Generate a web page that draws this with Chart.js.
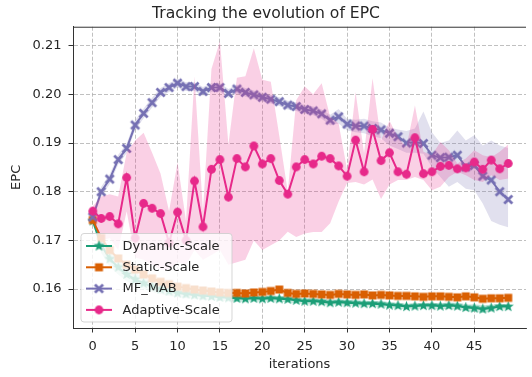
<!DOCTYPE html>
<html>
<head>
<meta charset="utf-8">
<title>EPC evolution</title>
<script src="https://cdn.jsdelivr.net/npm/chart.js@4.4.0/dist/chart.umd.min.js"></script>
<style>
    html, body { margin: 0; padding: 0; background: #fff; }
    canvas { display: block; }
</style>
</head>
<body>
<canvas id="epcChart" width="532" height="377"></canvas>
<script>
// --- Data ---
const iterations = Array.from({ length: 50 }, (_, i) => i);
const xTicks = [0, 5, 10, 15, 20, 25, 30, 35, 40, 45];
const yTicks = [0.16, 0.17, 0.18, 0.19, 0.20, 0.21];
const seriesNames = ['Dynamic-Scale', 'Static-Scale', 'MF_MAB', 'Adaptive-Scale'];

const dynamicScale = [
    0.1740, 0.1690, 0.1662, 0.1645, 0.1630, 0.1620, 0.1612, 0.1605, 0.1600, 0.1596,
    0.1592, 0.1590, 0.1588, 0.1586, 0.1585, 0.1583, 0.1582, 0.1581, 0.1580, 0.1581,
    0.1580, 0.1581, 0.1580, 0.1579, 0.1577, 0.1575, 0.1575, 0.1574, 0.1572, 0.1573,
    0.1572, 0.1571, 0.1570, 0.1570, 0.1569, 0.1567, 0.1566, 0.1564, 0.1565, 0.1566,
    0.1566, 0.1565, 0.1566, 0.1565, 0.1562, 0.1561, 0.1559, 0.1561, 0.1564, 0.1564
];
const dynamicSpread = [
    0.0003, 0.0016, 0.0016, 0.0015, 0.0014, 0.0013, 0.0012, 0.0011, 0.0010, 0.0010,
    0.0009, 0.0009, 0.0008, 0.0008, 0.0008, 0.0007, 0.0007, 0.0007, 0.0006, 0.0006,
    0.0006, 0.0006, 0.0006, 0.0006, 0.0006, 0.0006, 0.0006, 0.0006, 0.0006, 0.0006,
    0.0006, 0.0006, 0.0006, 0.0006, 0.0006, 0.0006, 0.0006, 0.0006, 0.0006, 0.0006,
    0.0006, 0.0006, 0.0007, 0.0007, 0.0007, 0.0008, 0.0008, 0.0007, 0.0006, 0.0005
];
const staticScale = [
    0.1742, 0.1705, 0.1680, 0.1663, 0.1650, 0.1640, 0.1630, 0.1622, 0.1615, 0.1610,
    0.1605, 0.1602, 0.1599, 0.1597, 0.1595, 0.1593, 0.1592, 0.1592, 0.1591, 0.1593,
    0.1594, 0.1596, 0.1599, 0.1592, 0.1590, 0.1591, 0.1590, 0.1589, 0.1588, 0.1590,
    0.1589, 0.1588, 0.1589, 0.1587, 0.1588, 0.1587, 0.1586, 0.1586, 0.1585, 0.1584,
    0.1585, 0.1585, 0.1584, 0.1583, 0.1585, 0.1583, 0.1580, 0.1581, 0.1581, 0.1582
];
const mfMab = [
    0.1748, 0.1800, 0.1826, 0.1866, 0.1889, 0.1937, 0.1961, 0.1983, 0.2004, 0.2014,
    0.2023, 0.2016, 0.2016, 0.2006, 0.2014, 0.2014, 0.2002, 0.2011, 0.2004, 0.1999,
    0.1994, 0.1990, 0.1985, 0.1978, 0.1975, 0.1969, 0.1966, 0.1960, 0.1947, 0.1954,
    0.1939, 0.1935, 0.1935, 0.1930, 0.1927, 0.1920, 0.1913, 0.1900, 0.1902, 0.1899,
    0.1875, 0.1870, 0.1871, 0.1875, 0.1851, 0.1854, 0.1832, 0.1824, 0.1800, 0.1784
];
const mfMabHigh = [
    0.1756, 0.1810, 0.1836, 0.1876, 0.1899, 0.1947, 0.1971, 0.1993, 0.2013, 0.2023,
    0.2032, 0.2025, 0.2025, 0.2015, 0.2023, 0.2023, 0.2011, 0.2020, 0.2013, 0.2008,
    0.2003, 0.1999, 0.1994, 0.1987, 0.1984, 0.1978, 0.1975, 0.1969, 0.1958, 0.1970,
    0.1950, 0.1948, 0.1950, 0.1945, 0.1942, 0.1932, 0.1928, 0.1925, 0.1930, 0.1965,
    0.1922, 0.1900, 0.1905, 0.1926, 0.1905, 0.1916, 0.1895, 0.1905, 0.1895, 0.1890
];
const mfMabLow = [
    0.1740, 0.1790, 0.1816, 0.1856, 0.1879, 0.1927, 0.1951, 0.1973, 0.1995, 0.2005,
    0.2014, 0.2007, 0.2007, 0.1997, 0.2005, 0.2005, 0.1993, 0.2002, 0.1995, 0.1990,
    0.1985, 0.1981, 0.1976, 0.1969, 0.1966, 0.1960, 0.1957, 0.1950, 0.1936, 0.1940,
    0.1926, 0.1922, 0.1920, 0.1914, 0.1910, 0.1895, 0.1888, 0.1880, 0.1880, 0.1878,
    0.1851, 0.1830, 0.1810, 0.1820, 0.1806, 0.1803, 0.1776, 0.1740, 0.1732, 0.1727
];
const adaptiveScale = [
    0.1760, 0.1745, 0.1749, 0.1734, 0.1829, 0.1705, 0.1776, 0.1766, 0.1755, 0.1695,
    0.1758, 0.1700, 0.1822, 0.1728, 0.1846, 0.1866, 0.1789, 0.1868, 0.1851, 0.1894,
    0.1857, 0.1868, 0.1823, 0.1795, 0.1851, 0.1866, 0.1857, 0.1873, 0.1868, 0.1853,
    0.1832, 0.1906, 0.1841, 0.1928, 0.1864, 0.1880, 0.1841, 0.1836, 0.1911, 0.1837,
    0.1841, 0.1852, 0.1854, 0.1847, 0.1849, 0.1861, 0.1846, 0.1865, 0.1847, 0.1858
];
const adaptiveHigh = [
    0.1770, 0.1790, 0.1795, 0.1790, 0.1880, 0.1905, 0.1921, 0.1880, 0.1837, 0.1760,
    0.1860, 0.1740, 0.2037, 0.1760, 0.2052, 0.2109, 0.1897, 0.2034, 0.2037, 0.2095,
    0.2030, 0.2026, 0.1915, 0.1800, 0.1988, 0.2016, 0.2000, 0.2023, 0.1954, 0.1940,
    0.1845, 0.2005, 0.1879, 0.2033, 0.1906, 0.1946, 0.1912, 0.1892, 0.1977, 0.1882,
    0.1875, 0.1902, 0.1885, 0.1858, 0.1868, 0.1885, 0.1875, 0.1871, 0.1882, 0.1897
];
const adaptiveLow = [
    0.1750, 0.1700, 0.1705, 0.1680, 0.1760, 0.1665, 0.1660, 0.1650, 0.1640, 0.1640,
    0.1655, 0.1650, 0.1680, 0.1660, 0.1670, 0.1680, 0.1650, 0.1655, 0.1660, 0.1700,
    0.1680, 0.1690, 0.1700, 0.1718, 0.1707, 0.1714, 0.1717, 0.1717, 0.1735, 0.1780,
    0.1818, 0.1820, 0.1815, 0.1825, 0.1785, 0.1815, 0.1824, 0.1824, 0.1830, 0.1824,
    0.1803, 0.1810, 0.1830, 0.1841, 0.1834, 0.1824, 0.1820, 0.1834, 0.1824, 0.1827
];

// axis limits (matplotlib-like margins, right side runs past the canvas)
const xMin = -2.33, xMax = 51.1;
const yMin = 0.1520, yMax = 0.2139;

const FONT = "'DejaVu Sans', sans-serif";
const TEXT = '#262626';
const SPINE = '#333333';

const colors = {
    dynamic: '#1b9e77',
    static: '#d95f02',
    mf: '#7570b3',
    adaptive: '#e7298a'
};

// --- Marker sprites (filled star, filled X, square, circle) ---
function makeMarker(kind, color) {
    const c = document.createElement('canvas');
    c.width = c.height = 15;
    const g = c.getContext('2d');
    g.fillStyle = color;
    g.translate(7.5, 7.5);
    g.beginPath();
    if (kind === 'circle') {
        g.arc(0, 0, 4.4, 0, Math.PI * 2);
    } else if (kind === 'square') {
        g.rect(-4, -4, 8, 8);
    } else if (kind === 'star') {
        for (let k = 0; k < 10; k++) {
            const r = k % 2 === 0 ? 5.8 : 2.4;
            const a = -Math.PI / 2 + k * Math.PI / 5;
            k === 0 ? g.moveTo(r * Math.cos(a), r * Math.sin(a)) : g.lineTo(r * Math.cos(a), r * Math.sin(a));
        }
        g.closePath();
    } else if (kind === 'x') {
        const L = 5, W = 1.9;
        const pts = [[W, 0], [L, L - W], [L - W, L], [0, W], [-L + W, L], [-L, L - W],
                     [-W, 0], [-L, -L + W], [-L + W, -L], [0, -W], [L - W, -L], [L, -L + W]];
        pts.forEach((p, k) => k === 0 ? g.moveTo(p[0], p[1]) : g.lineTo(p[0], p[1]));
        g.closePath();
    }
    g.fill();
    return c;
}

const markers = {
    dynamic: makeMarker('star', colors.dynamic),
    static: makeMarker('square', colors.static),
    mf: makeMarker('x', colors.mf),
    adaptive: makeMarker('circle', colors.adaptive)
};

function fade(hex, a) {
    const n = parseInt(hex.slice(1), 16);
    return `rgba(${n >> 16},${(n >> 8) & 255},${n & 255},${a})`;
}

const toPoints = vals => vals.map((v, i) => ({ x: iterations[i], y: v }));

function seriesLine(label, values, key, order) {
    return {
        label, data: toPoints(values),
        borderColor: colors[key], backgroundColor: colors[key],
        borderWidth: 2, tension: 0, fill: false,
        pointStyle: markers[key], pointRadius: 4, pointHoverRadius: 4,
        legendKey: key, order
    };
}
function bandEdge(values, key, order, target) {
    return {
        label: '', data: toPoints(values),
        borderColor: 'transparent', borderWidth: 0, pointRadius: 0,
        backgroundColor: fade(colors[key], 0.22), fill: target, order
    };
}

const dynamicLow = dynamicScale.map((v, i) => v - dynamicSpread[i]);
const dynamicHigh = dynamicScale.map((v, i) => v + dynamicSpread[i]);

const datasets = [
    seriesLine('Adaptive-Scale', adaptiveScale, 'adaptive', 0),  // 0
    bandEdge(adaptiveLow, 'adaptive', 1, false),                 // 1
    bandEdge(adaptiveHigh, 'adaptive', 1, 1),                    // 2
    seriesLine('MF_MAB', mfMab, 'mf', 2),                         // 3
    bandEdge(mfMabLow, 'mf', 3, false),                           // 4
    bandEdge(mfMabHigh, 'mf', 3, 4),                              // 5
    seriesLine('Static-Scale', staticScale, 'static', 4),         // 6
    seriesLine('Dynamic-Scale', dynamicScale, 'dynamic', 5),      // 7
    bandEdge(dynamicLow, 'dynamic', 6, false),                    // 8
    bandEdge(dynamicHigh, 'dynamic', 6, 8)                        // 9
];

// top spine (no right spine, the axes run past the canvas edge)
const topSpine = {
    id: 'topSpine',
    afterDatasetsDraw(chart) {
        const { ctx, chartArea } = chart;
        ctx.save();
        ctx.strokeStyle = SPINE;
        ctx.lineWidth = 1;
        ctx.beginPath();
        ctx.moveTo(chartArea.left, chartArea.top + 0.5);
        ctx.lineTo(chartArea.right, chartArea.top + 0.5);
        ctx.stroke();
        ctx.restore();
    }
};

// legend box in the lower left corner of the plot
const legendBox = {
    id: 'legendBox',
    afterDraw(chart) {
        const { ctx, chartArea } = chart;
        const boxX = chartArea.left + 7.5, boxW = 151, boxH = 88.5;
        const boxY = chartArea.bottom - 6.5 - boxH;
        ctx.save();
        ctx.beginPath();
        ctx.roundRect(boxX + 0.5, boxY + 0.5, boxW, boxH, 3);
        ctx.fillStyle = 'rgba(255,255,255,0.8)';
        ctx.fill();
        ctx.strokeStyle = 'rgba(204,204,204,0.8)';
        ctx.lineWidth = 1;
        ctx.stroke();

        ctx.font = `13px ${FONT}`;
        ctx.textBaseline = 'middle';
        ctx.fillStyle = TEXT;
        seriesNames.forEach((name, k) => {
            const ds = chart.data.datasets.find(d => d.label === name);
            const y = boxY + 13 + k * 21.3;
            ctx.strokeStyle = ds.borderColor;
            ctx.lineWidth = 2;
            ctx.beginPath();
            ctx.moveTo(boxX + 5.5, y);
            ctx.lineTo(boxX + 31.5, y);
            ctx.stroke();
            const m = markers[ds.legendKey];
            ctx.drawImage(m, boxX + 18.5 - m.width / 2, y - m.height / 2);
            ctx.fillStyle = TEXT;
            ctx.fillText(name, boxX + 42, y + 0.5);
        });
        ctx.restore();
    }
};

new Chart(document.getElementById('epcChart'), {
    type: 'line',
    data: { datasets },
    options: {
        responsive: false,
        animation: false,
        layout: { padding: 0 },
        plugins: {
            legend: { display: false },
            tooltip: { enabled: false },
            title: {
                display: true,
                text: 'Tracking the evolution of EPC',
                color: TEXT,
                font: { family: FONT, size: 15.6, weight: 'normal' },
                padding: { top: 5, bottom: 3 }
            }
        },
        scales: {
            x: {
                type: 'linear',
                min: xMin, max: xMax,
                afterBuildTicks: s => { s.ticks = xTicks.map(v => ({ value: v })); },
                afterFit: s => { s.height = 49; },
                ticks: {
                    color: TEXT, font: { family: FONT, size: 13 }, padding: 6,
                    maxRotation: 0, autoSkip: false,
                    callback: v => String(v)
                },
                grid: {
                    color: '#b0b0b0', lineWidth: 0.8,
                    tickColor: SPINE, tickLength: 4.5, tickWidth: 1, tickBorderDash: []
                },
                border: { display: true, color: SPINE, width: 1, dash: [4, 2] },
                title: {
                    display: true, text: 'iterations', color: TEXT,
                    font: { family: FONT, size: 13 }, padding: { top: 0, bottom: 4.5 }
                }
            },
            y: {
                min: yMin, max: yMax,
                afterBuildTicks: s => { s.ticks = yTicks.map(v => ({ value: v })); },
                afterFit: s => { s.width = 73; },
                ticks: {
                    color: TEXT, font: { family: FONT, size: 13 }, padding: 7,
                    autoSkip: false,
                    callback: v => v.toFixed(2)
                },
                grid: {
                    color: '#b0b0b0', lineWidth: 0.8,
                    tickColor: SPINE, tickLength: 4.5, tickWidth: 1, tickBorderDash: []
                },
                border: { display: true, color: SPINE, width: 1, dash: [4, 2] },
                title: {
                    display: true, text: 'EPC', color: TEXT,
                    font: { family: FONT, size: 13 }, padding: { top: 9, bottom: 0 }
                }
            }
        }
    },
    plugins: [topSpine, legendBox]
});
</script>
</body>
</html>
